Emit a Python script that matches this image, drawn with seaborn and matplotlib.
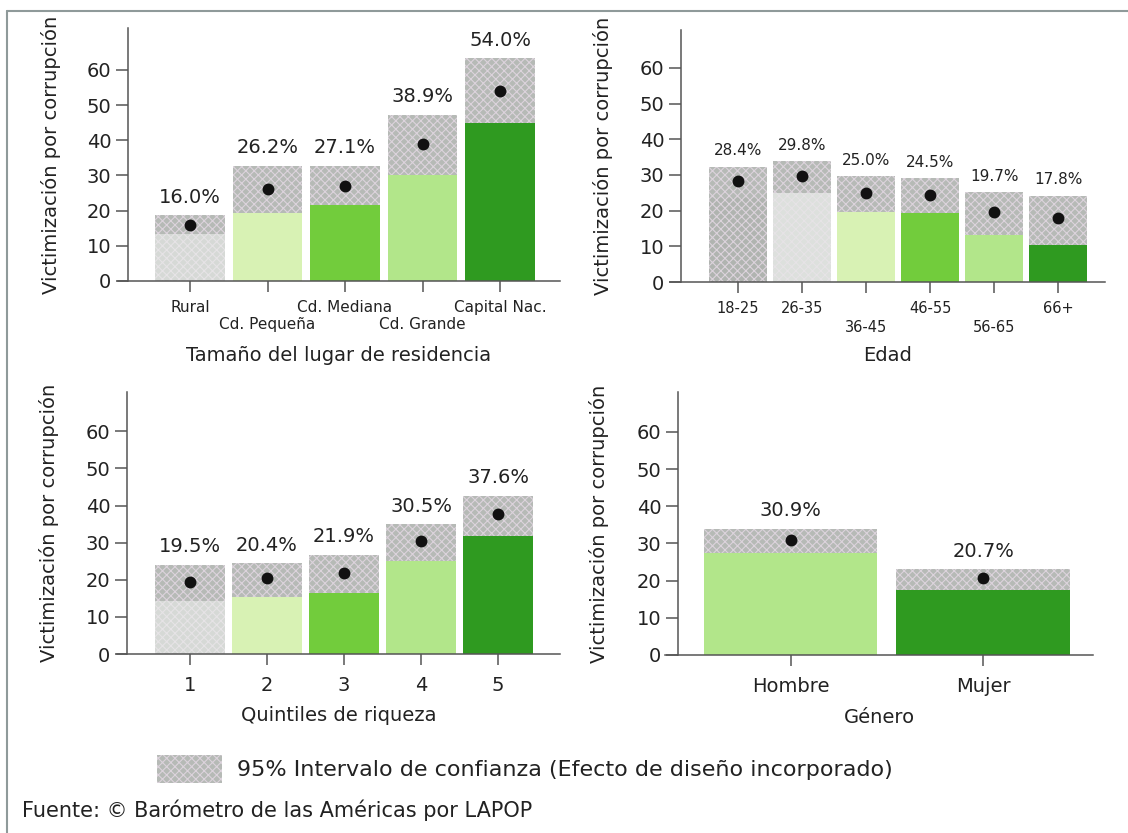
import matplotlib
matplotlib.use("Agg")
import matplotlib.pyplot as plt
import matplotlib.patches as mpatches
from matplotlib.lines import Line2D
import seaborn as sns

# --- data ---
lugar_cats = ["Rural", "Cd. Pequeña", "Cd. Mediana", "Cd. Grande", "Capital Nac."]
lugar_mean = [16.0, 26.2, 27.1, 38.9, 54.0]
lugar_lo = [13.3, 19.2, 21.6, 30.1, 44.8]
lugar_hi = [18.7, 32.8, 32.8, 47.3, 63.4]

edad_cats = ["18-25", "26-35", "36-45", "46-55", "56-65", "66+"]
edad_mean = [28.4, 29.8, 25.0, 24.5, 19.7, 17.8]
edad_lo = [23.4, 24.8, 19.6, 19.2, 13.3, 10.3]
edad_hi = [32.3, 33.8, 29.7, 29.0, 25.1, 24.2]

quint_cats = ["1", "2", "3", "4", "5"]
quint_mean = [19.5, 20.4, 21.9, 30.5, 37.6]
quint_lo = [14.2, 15.4, 16.4, 25.0, 31.9]
quint_hi = [24.1, 24.4, 26.8, 35.0, 42.7]

gen_cats = ["Hombre", "Mujer"]
gen_mean = [30.9, 20.7]
gen_lo = [27.3, 17.5]
gen_hi = [34.0, 23.0]

# colours
GREY = "#b6bab6"
HATCH = "#dcd3dc"
LGREY = "#d6d9d6"
PALE = "#d8f2b4"
BRIGHT = "#72cc3c"
LIGHT = "#b2e68a"
DARK = "#2f9a20"
lugar_cols = [LGREY, PALE, BRIGHT, LIGHT, DARK]
edad_cols = ["#b0b4b0", "#dde0dd", PALE, BRIGHT, LIGHT, DARK]
quint_cols = [LGREY, PALE, BRIGHT, LIGHT, DARK]
gen_cols = [LIGHT, DARK]

stagger = {"Cd. Pequeña", "Cd. Grande", "36-45", "56-65"}

sns.set_style("ticks")
plt.rcParams["font.family"] = ["DejaVu Sans"]
plt.rcParams["hatch.linewidth"] = 0.8
TXT = "#222222"
AX = "#555555"

W, H = 1128, 833
fig = plt.figure(figsize=(W / 100, H / 100), dpi=100)


def px_axes(l, t, r, b):
    return fig.add_axes([l / W, 1 - b / H, (r - l) / W, (b - t) / H])


def panel(ax, cats, mean, lo, hi, cols, xlim, spine_x, ymax, xlabel,
          lab_fs, tick_fs, xlab_y, tick_pad, stag_pad):
    n = len(cats)
    sns.barplot(x=cats, y=hi, order=cats, color=GREY, width=0.9,
                saturation=1, ax=ax)
    for p in ax.patches[:n]:
        p.set_hatch("xxxx")
        p.set_edgecolor(HATCH)
        p.set_linewidth(0)
    sns.barplot(x=cats, y=lo, order=cats, hue=cats, hue_order=cats,
                palette=cols, width=0.9, saturation=1, legend=False, ax=ax)
    for p, c in zip(ax.patches[n:], cols):
        p.set_linewidth(0)
        if c in (LGREY, "#dde0dd", "#b0b4b0"):
            p.set_hatch("xxxx")
            p.set_edgecolor(HATCH if c == "#b0b4b0" else "#e6e3e6")
    sns.pointplot(x=cats, y=mean, order=cats, color="#111111",
                  linestyle="none", markers="o", markersize=6.5,
                  errorbar=None, ax=ax)
    for i, (m, h) in enumerate(zip(mean, hi)):
        ax.annotate(f"{m:.1f}%", (i, h), xytext=(0, 6),
                    textcoords="offset points", ha="center", va="bottom",
                    fontsize=lab_fs, color=TXT)
    ax.set_xlim(*xlim)
    ax.set_ylim(0, ymax)
    ax.set_yticks(range(0, 61, 10))
    ax.set_xticks(range(n))
    ax.set_xticklabels(cats)
    sns.despine(ax=ax)
    ax.spines["left"].set_position(("data", spine_x))
    for s in ("left", "bottom"):
        ax.spines[s].set_color(AX)
        ax.spines[s].set_linewidth(1.1)
    ax.tick_params(axis="y", length=9, width=1.1, color=AX, labelsize=14,
                   labelcolor=TXT, pad=3)
    ax.tick_params(axis="x", length=8, width=1.1, color=AX,
                   labelsize=tick_fs, labelcolor=TXT, pad=tick_pad)
    for c, t in zip(cats, ax.xaxis.get_major_ticks()):
        if c in stagger:
            t.set_pad(tick_pad + stag_pad)
    ax.set_ylabel("Victimización por corrupción", fontsize=14, color=TXT)
    ax.set_xlabel(xlabel, fontsize=14, color=TXT)
    ax.yaxis.set_label_coords(-0.13, 0.5)
    ax.xaxis.set_label_coords(0.5, xlab_y)
    ax.set_facecolor("none")


ax1 = px_axes(118, 28, 560, 281)
panel(ax1, lugar_cats, lugar_mean, lugar_lo, lugar_hi, lugar_cols,
      (-0.929, 4.774), -0.8, 71.9, "Tamaño del lugar de residencia",
      14, 11, -0.255, 6, 12)

ax2 = px_axes(670, 30, 1105, 282)
panel(ax2, edad_cats, edad_mean, edad_lo, edad_hi, edad_cols,
      (-1.06, 5.73), -0.89, 70.6, "Edad", 11, 10.5, -0.255, 6, 13)

ax3 = px_axes(117, 392, 560, 654)
panel(ax3, quint_cats, quint_mean, quint_lo, quint_hi, quint_cols,
      (-0.948, 4.805), -0.818, 70.6, "Quintiles de riqueza",
      14, 14, -0.2, 8, 0)

ax4 = px_axes(665, 392, 1093, 655)
panel(ax4, gen_cats, gen_mean, gen_lo, gen_hi, gen_cols,
      (-0.652, 1.571), -0.584, 70.7, "Género", 14, 14, -0.2, 8, 0)

# legend swatch and caption
fig.patches.append(mpatches.Rectangle((157 / W, 1 - 783 / H), 65 / W, 28 / H,
                                      transform=fig.transFigure,
                                      facecolor=GREY, edgecolor=HATCH,
                                      hatch="xxxx", linewidth=0))
fig.text(237 / W, 1 - 770 / H,
         "95% Intervalo de confianza (Efecto de diseño incorporado)",
         fontsize=16, color=TXT, va="center", ha="left")
fig.text(22 / W, 1 - 810 / H, "Fuente: © Barómetro de las Américas por LAPOP",
         fontsize=15, color=TXT, va="center", ha="left")

# frame lines (top and left only, as in the scan)
fig.lines.append(Line2D([7 / W, 1], [1 - 11 / H, 1 - 11 / H],
                        transform=fig.transFigure, color="#8f9a9a", lw=1.5))
fig.lines.append(Line2D([7 / W, 7 / W], [0, 1 - 11 / H],
                        transform=fig.transFigure, color="#8f9a9a", lw=1.5))

fig.savefig("out.png", dpi=100)
